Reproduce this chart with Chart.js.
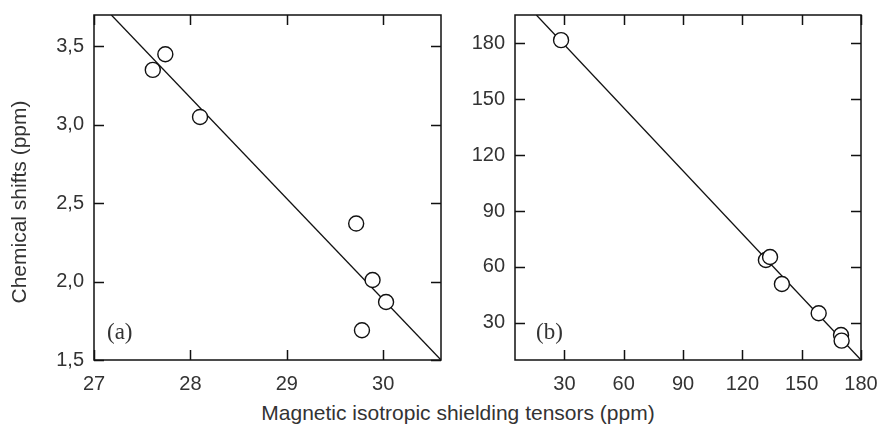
<!DOCTYPE html>
<html>
<head>
<meta charset="utf-8">
<script src="https://cdn.jsdelivr.net/npm/chart.js@4.4.0/dist/chart.umd.min.js"></script>
<style>
    body { margin: 0; background: #fff; overflow: hidden; width: 877px; height: 431px; position: relative; }
    canvas { position: absolute; top: 0; }
    #chartA { left: 0; }
    #chartB { left: 460px; }
    #xtitle {
        position: absolute; left: 0; width: 916px; top: 400px;
        text-align: center; white-space: nowrap;
        font: 21px "Liberation Sans", Arial, sans-serif; line-height: 26px; color: #333;
    }
</style>
</head>
<body>
<canvas id="chartA" width="460" height="400"></canvas>
<canvas id="chartB" width="440" height="400"></canvas>
<div id="xtitle">Magnetic isotropic shielding tensors (ppm)</div>
<script>
// panel (a)
const shieldA = [27.61, 27.74, 28.10, 29.72, 29.89, 30.03, 29.78];
const shiftA = [3.35, 3.45, 3.05, 2.37, 2.01, 1.87, 1.69];
const fitXA = [27.18, 30.6];
const fitYA = [3.70, 1.50];
const xRangeA = [27, 30.6];
const yRangeA = [1.5, 3.7];
const xTicksA = [27, 28, 29, 30];
const yTicksA = [1.5, 2.0, 2.5, 3.0, 3.5];

// panel (b)
const shieldB = [28.3, 131.9, 134.0, 140.0, 158.6, 169.9, 170.2];
const shiftB = [181.8, 63.7, 65.3, 50.8, 35.1, 23.4, 20.4];
const fitXB = [15.8, 180];
const fitYB = [195.3, 10];
const xRangeB = [5, 180];
const yRangeB = [10, 195.3];
const xTicksB = [30, 60, 90, 120, 150, 180];
const yTicksB = [30, 60, 90, 120, 150, 180];

const yTitle = 'Chemical shifts (ppm)';
const textColor = '#333';
const tickFont = { family: 'Liberation Sans', size: 20 };

// frame, inward ticks on all four sides, panel letter, y title
const framePlugin = {
    id: 'frame',
    afterDraw(chart, args, opts) {
        const ctx = chart.ctx;
        const a = chart.chartArea;
        const x = chart.scales.x;
        const y = chart.scales.y;
        ctx.save();
        ctx.strokeStyle = '#111';
        ctx.lineWidth = 1.5;
        ctx.strokeRect(a.left, a.top, a.right - a.left, a.bottom - a.top);
        ctx.beginPath();
        x.ticks.forEach(t => {
            let px = Math.round(x.getPixelForValue(t.value)) + 0.5;
            ctx.moveTo(px, a.bottom); ctx.lineTo(px, a.bottom - 10);
            ctx.moveTo(px, a.top); ctx.lineTo(px, a.top + 10);
        });
        y.ticks.forEach(t => {
            let py = Math.round(y.getPixelForValue(t.value)) + 0.5;
            ctx.moveTo(a.left, py); ctx.lineTo(a.left + 10, py);
            ctx.moveTo(a.right, py); ctx.lineTo(a.right - 10, py);
        });
        ctx.stroke();

        ctx.fillStyle = textColor;
        ctx.font = '23px "Liberation Serif", "Times New Roman", serif';
        ctx.textBaseline = 'middle';
        ctx.textAlign = 'left';
        ctx.fillText(opts.label, a.left + opts.labelDx, a.bottom - 27);

        if (opts.yTitle) {
            ctx.translate(20, 202);
            ctx.rotate(-Math.PI / 2);
            ctx.textAlign = 'center';
            ctx.font = '21px "Liberation Sans", Arial, sans-serif';
            ctx.fillText(opts.yTitle, 0, 0);
        }
        ctx.restore();
    }
};

function makeChart(id, xs, ys, fitX, fitY, xRange, yRange, xTicks, yTicks, yLabel, yWidth, padRight, label, labelDx, title) {
    new Chart(document.getElementById(id), {
        type: 'scatter',
        data: {
            datasets: [{
                data: xs.map((v, i) => ({ x: v, y: ys[i] })),
                pointRadius: 7.5,
                pointHoverRadius: 7.5,
                pointBackgroundColor: '#fff',
                pointBorderColor: '#111',
                pointBorderWidth: 1.4,
                order: 0
            }, {
                type: 'line',
                data: fitX.map((v, i) => ({ x: v, y: fitY[i] })),
                borderColor: '#111',
                borderWidth: 1.3,
                pointRadius: 0,
                fill: false,
                order: 1
            }]
        },
        options: {
            responsive: false,
            animation: false,
            devicePixelRatio: 1,
            layout: { padding: { top: 15, right: padRight, left: 0, bottom: 0 } },
            plugins: {
                legend: { display: false },
                tooltip: { enabled: false },
                frame: { label: label, labelDx: labelDx, yTitle: title }
            },
            scales: {
                x: {
                    type: 'linear',
                    min: xRange[0],
                    max: xRange[1],
                    grid: { display: false, drawTicks: false },
                    border: { display: false },
                    ticks: { color: textColor, font: tickFont, padding: 12, maxRotation: 0 },
                    afterBuildTicks: s => { s.ticks = xTicks.map(v => ({ value: v })); },
                    afterFit: s => { s.height = 40; s.paddingLeft = 0; s.paddingRight = 0; }
                },
                y: {
                    type: 'linear',
                    min: yRange[0],
                    max: yRange[1],
                    grid: { display: false, drawTicks: false },
                    border: { display: false },
                    ticks: { color: textColor, font: tickFont, padding: 10, callback: yLabel },
                    afterBuildTicks: s => { s.ticks = yTicks.map(v => ({ value: v })); },
                    afterFit: s => { s.width = yWidth; s.paddingTop = 0; s.paddingBottom = 0; }
                }
            }
        },
        plugins: [framePlugin]
    });
}

makeChart('chartA', shieldA, shiftA, fitXA, fitYA, xRangeA, yRangeA, xTicksA, yTicksA,
    v => v.toFixed(1).replace('.', ','), 94, 19, '(a)', 13, yTitle);
makeChart('chartB', shieldB, shiftB, fitXB, fitYB, xRangeB, yRangeB, xTicksB, yTicksB,
    v => String(v), 55, 39, '(b)', 21, null);
</script>
</body>
</html>
